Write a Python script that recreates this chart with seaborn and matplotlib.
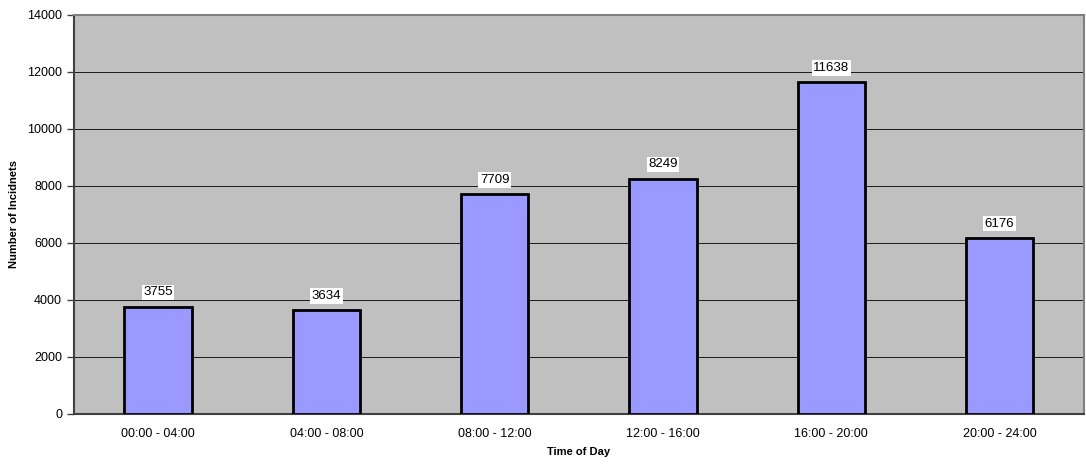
import numpy as np
import matplotlib
matplotlib.use("Agg")
import matplotlib.pyplot as plt
import seaborn as sns
import pandas as pd

periods = ["00:00 - 04:00", "04:00 - 08:00", "08:00 - 12:00",
           "12:00 - 16:00", "16:00 - 20:00", "20:00 - 24:00"]
incidents = [3755, 3634, 7709, 8249, 11638, 6176]

df = pd.DataFrame({"period": periods, "incidents": incidents})

sns.set_style("white")
plt.rcParams["font.family"] = ["Liberation Sans", "DejaVu Sans"]
plt.rcParams["text.color"] = "black"
plt.rcParams["axes.labelcolor"] = "black"
plt.rcParams["xtick.color"] = "black"
plt.rcParams["ytick.color"] = "black"

fig = plt.figure(figsize=(10.86, 4.66), dpi=100)
ax = fig.add_axes([0.068, 0.112, 0.930, 0.856])
ax.set_facecolor("#C0C0C0")

sns.barplot(data=df, x="period", y="incidents", color="#9999FF",
            saturation=1, width=0.4, edgecolor="black", linewidth=2,
            ax=ax, zorder=3)

ax.set_ylim(0, 14000)
ax.set_yticks(np.arange(0, 14001, 2000))
ax.yaxis.grid(True, color="#1a1a1a", linewidth=0.7, zorder=0)
ax.set_axisbelow(True)
ax.set_xlim(-0.5, len(periods) - 0.5)

# ticks between categories
ax.set_xticks(np.arange(-0.5, len(periods), 1), minor=True)
ax.tick_params(axis="x", which="minor", length=5, color="#404040", width=1)
ax.tick_params(axis="x", which="major", length=0, labelsize=9, pad=10)
ax.tick_params(axis="y", length=5, color="#404040", width=1, labelsize=9, left=True)

for side in ["top", "right"]:
    ax.spines[side].set_color("#808080")
    ax.spines[side].set_linewidth(1.5)
for side in ["left", "bottom"]:
    ax.spines[side].set_color("#404040")
    ax.spines[side].set_linewidth(1.5)

for i, v in enumerate(incidents):
    ax.annotate(str(v), (i, v), xytext=(0, 6), textcoords="offset points",
                ha="center", va="bottom", fontsize=9.5, color="black",
                bbox=dict(facecolor="white", edgecolor="none", pad=1.2))

ax.set_xlabel("Time of Day", fontsize=8, fontweight="bold", labelpad=5)
ax.set_ylabel("Number of Incidnets", fontsize=8, fontweight="bold", labelpad=6)

fig.savefig("out.png", dpi=100, facecolor="white")
